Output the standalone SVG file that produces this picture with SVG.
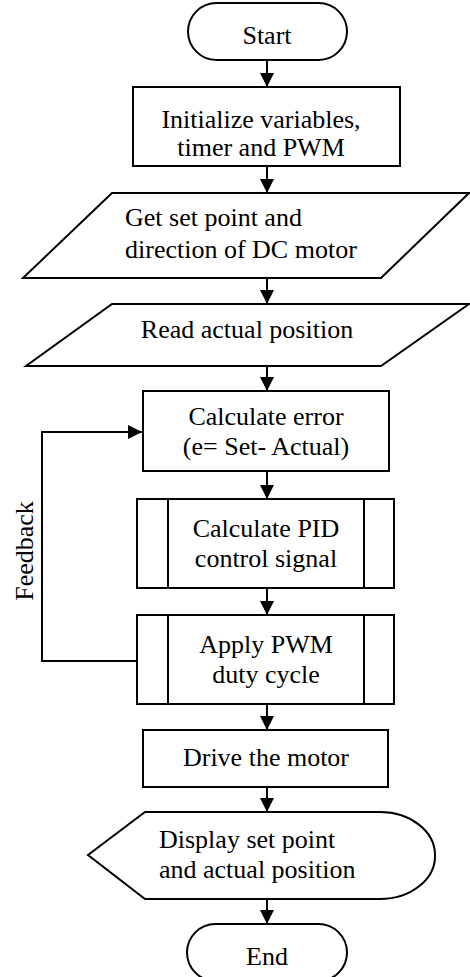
<svg xmlns="http://www.w3.org/2000/svg" width="470" height="977" viewBox="0 0 470 977">
<style>
.s{fill:#fff;stroke:#000;stroke-width:2}
.t{font-family:"Liberation Serif","Times New Roman",serif;font-size:26px;fill:#000}
.c{text-anchor:middle}
.e{fill:none;stroke:#000;stroke-width:2}
</style>
<defs>
<marker id="ah" markerWidth="14" markerHeight="16" refX="14" refY="7" orient="auto" markerUnits="userSpaceOnUse" viewBox="0 0 14 14">
<path d="M0,0 L14,7 L0,14 Z" fill="#000"/>
</marker>
</defs>
<rect width="470" height="977" fill="#fff"/>
<g id="connectors">
<line class="e" x1="267" y1="60" x2="267" y2="87" marker-end="url(#ah)"/>
<line class="e" x1="267" y1="166" x2="267" y2="193" marker-end="url(#ah)"/>
<line class="e" x1="267" y1="278" x2="267" y2="304" marker-end="url(#ah)"/>
<line class="e" x1="267" y1="366" x2="267" y2="391" marker-end="url(#ah)"/>
<line class="e" x1="267" y1="471" x2="267" y2="499" marker-end="url(#ah)"/>
<line class="e" x1="267" y1="588" x2="267" y2="615" marker-end="url(#ah)"/>
<line class="e" x1="267" y1="704" x2="267" y2="730" marker-end="url(#ah)"/>
<line class="e" x1="267" y1="787" x2="267" y2="812" marker-end="url(#ah)"/>
<line class="e" x1="267" y1="899" x2="267" y2="924" marker-end="url(#ah)"/>
<polyline class="e" points="137,661 42,661 42,432 142,432" marker-end="url(#ah)"/>
<text class="t c" transform="translate(33,551) rotate(-90)">Feedback</text>
</g>
<g id="start">
<rect class="s" x="188" y="3" width="159" height="57" rx="28.5"/>
<text class="t c" x="267" y="44">Start</text>
</g>
<g id="init">
<rect class="s" x="133" y="87" width="267" height="79"/>
<text class="t c" x="261" y="128">Initialize variables,</text>
<text class="t c" x="261" y="156">timer and PWM</text>
</g>
<g id="getset">
<polygon class="s" points="112,193 469,193 381,278 23,278"/>
<text class="t" x="125" y="226">Get set point and</text>
<text class="t" x="125" y="258">direction of DC motor</text>
</g>
<g id="read">
<polygon class="s" points="112,304 469,304 381,366 26,366"/>
<text class="t c" x="247" y="338">Read actual position</text>
</g>
<g id="error">
<rect class="s" x="143" y="391" width="246" height="80"/>
<text class="t c" x="266" y="425">Calculate error</text>
<text class="t c" x="266" y="455">(e= Set- Actual)</text>
</g>
<g id="pid">
<rect class="s" x="137" y="499" width="257" height="89"/>
<line class="e" x1="168" y1="499" x2="168" y2="588"/>
<line class="e" x1="364" y1="499" x2="364" y2="588"/>
<text class="t c" x="266" y="537">Calculate PID</text>
<text class="t c" x="266" y="567">control signal</text>
</g>
<g id="apply">
<rect class="s" x="137" y="615" width="257" height="89"/>
<line class="e" x1="168" y1="615" x2="168" y2="704"/>
<line class="e" x1="364" y1="615" x2="364" y2="704"/>
<text class="t c" x="266" y="653">Apply PWM</text>
<text class="t c" x="266" y="683">duty cycle</text>
</g>
<g id="drive">
<rect class="s" x="143" y="730" width="245" height="57"/>
<text class="t c" x="266" y="766">Drive the motor</text>
</g>
<g id="display">
<path class="s" d="M145,812 L380,812 A55,43 0 0 1 435,855 A55,43 0 0 1 380,899 L145,899 L88,855 Z"/>
<text class="t" x="159" y="848">Display set point</text>
<text class="t" x="159" y="878">and actual position</text>
</g>
<g id="end">
<rect class="s" x="187" y="924" width="160" height="57" rx="28.5"/>
<text class="t c" x="267" y="965">End</text>
</g>
</svg>
